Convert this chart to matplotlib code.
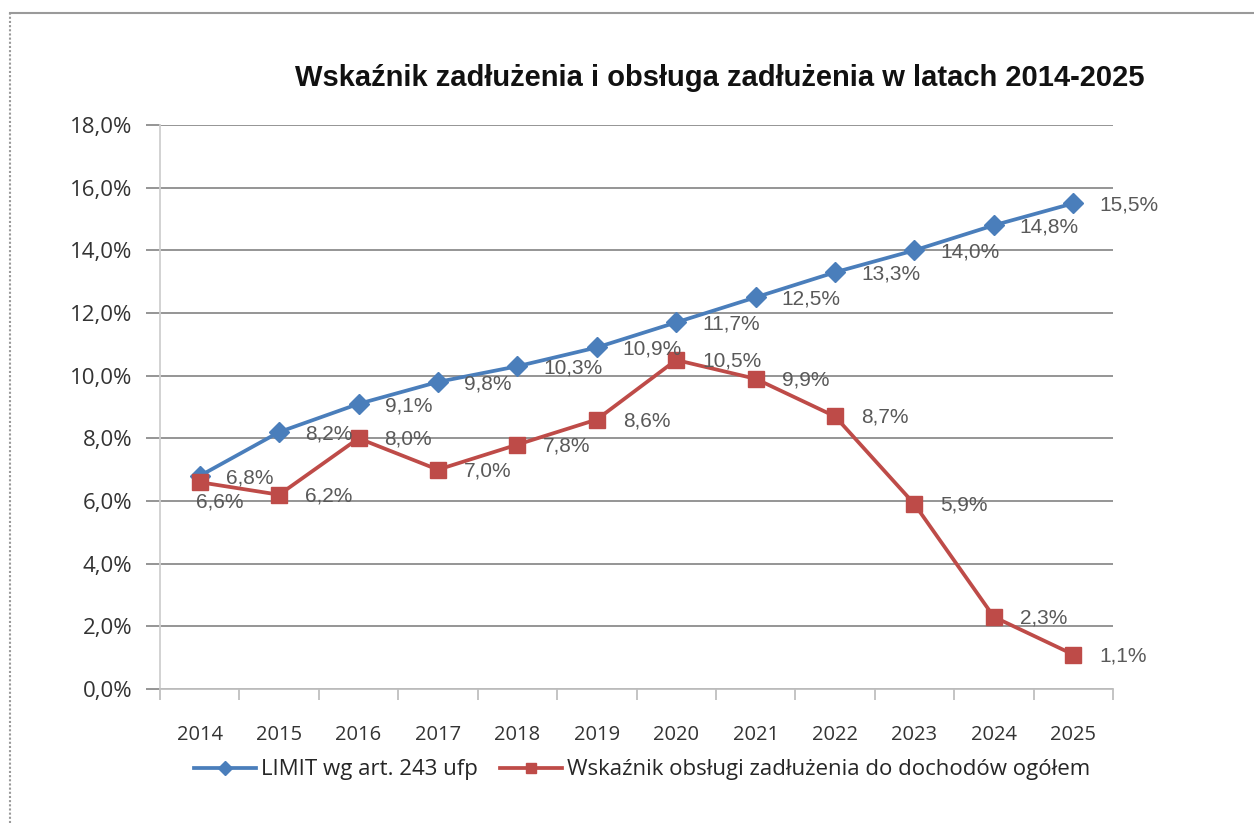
import matplotlib
matplotlib.use('Agg')
import matplotlib.pyplot as plt
from matplotlib.lines import Line2D
from matplotlib.ticker import FuncFormatter

# dane
lata = ['2014', '2015', '2016', '2017', '2018', '2019',
        '2020', '2021', '2022', '2023', '2024', '2025']
limit = [6.8, 8.2, 9.1, 9.8, 10.3, 10.9, 11.7, 12.5, 13.3, 14.0, 14.8, 15.5]
obsluga = [6.6, 6.2, 8.0, 7.0, 7.8, 8.6, 10.5, 9.9, 8.7, 5.9, 2.3, 1.1]

tytul = 'Wskaźnik zadłużenia i obsługa zadłużenia w latach 2014-2025'
etykieta_limit = 'LIMIT wg art. 243 ufp'
etykieta_obsluga = 'Wskaźnik obsługi zadłużenia do dochodów ogółem'

niebieski = '#4A7EBB'
czerwony = '#BE4B48'

fig = plt.figure(figsize=(12.54, 8.23), dpi=100)
ax = fig.add_axes([160 / 1254, 1 - 689 / 823, 953 / 1254, 564 / 823])

x = list(range(len(lata)))
l1, = ax.plot(x, limit, color=niebieski, lw=2.7, marker='D', ms=10,
              label=etykieta_limit, zorder=3)
l2, = ax.plot(x, obsluga, color=czerwony, lw=2.7, marker='s', ms=12,
              label=etykieta_obsluga, zorder=4)

def fmt(v):
    return f'{v:.1f}%'.replace('.', ',')

# etykiety danych
for i, v in enumerate(limit):
    ax.annotate(fmt(v), (i, v), xytext=(26, -2), textcoords='offset pixels',
                ha='left', va='center', fontsize=15, color='#595959',
                family='Liberation Sans', zorder=5)
for i, v in enumerate(obsluga):
    if i == 0:
        off, ha = (20, -20), 'center'
    else:
        off, ha = (26, -1), 'left'
    ax.annotate(fmt(v), (i, v), xytext=off, textcoords='offset pixels',
                ha=ha, va='center', fontsize=15, color='#595959',
                family='Liberation Sans', zorder=5)

ax.set_xlim(-0.5, len(lata) - 0.5)
ax.set_ylim(0, 18)
ax.set_yticks(range(0, 19, 2))
ax.yaxis.set_major_formatter(FuncFormatter(lambda v, p: fmt(v)))
ax.grid(axis='y', color='#8C8C8C', lw=1.3, zorder=0)

ax.set_xticks(x)
ax.set_xticklabels(lata)
ax.set_xticks([i - 0.5 for i in range(len(lata) + 1)], minor=True)
ax.tick_params(axis='x', which='major', length=0, pad=26, labelsize=14.5,
               labelcolor='#333333')
ax.tick_params(axis='x', which='minor', length=8, width=1.3, color='#BFBFBF')
ax.tick_params(axis='y', length=10, width=1.3, color='#8C8C8C', pad=10,
               labelsize=16, labelcolor='#333333')
for lab in ax.get_xticklabels() + ax.get_yticklabels():
    lab.set_family('Open Sans')

for s in ['top', 'right']:
    ax.spines[s].set_visible(False)
ax.spines['left'].set_color('#CFCFCF')
ax.spines['bottom'].set_color('#BFBFBF')
ax.spines['left'].set_linewidth(1.3)
ax.spines['bottom'].set_linewidth(1.3)

fig.text(720 / 1254, 1 - 78 / 823, tytul, ha='center', va='center',
         fontsize=21, fontweight='bold', family='Liberation Sans', color='#111111')

leg = fig.legend(handles=[l1, l2], loc='center', ncol=2,
                 bbox_to_anchor=(642 / 1254, 1 - 770 / 823), frameon=False,
                 handlelength=2.8, handletextpad=0.2, columnspacing=1.0,
                 prop={'family': 'Open Sans', 'size': 16})
for t in leg.get_texts():
    t.set_color('#262626')
for h in leg.legend_handles:
    h.set_markersize(7)

# ramka
fig.add_artist(Line2D([10 / 1254, 1], [1 - 13 / 823, 1 - 13 / 823],
                      transform=fig.transFigure, color='#9A9A9A', lw=1.5))
fig.add_artist(Line2D([10 / 1254, 10 / 1254], [0, 1 - 13 / 823],
                      transform=fig.transFigure, color='#9A9A9A', lw=1.5,
                      ls=(0, (1, 1))))

fig.savefig('out.png', dpi=100)
